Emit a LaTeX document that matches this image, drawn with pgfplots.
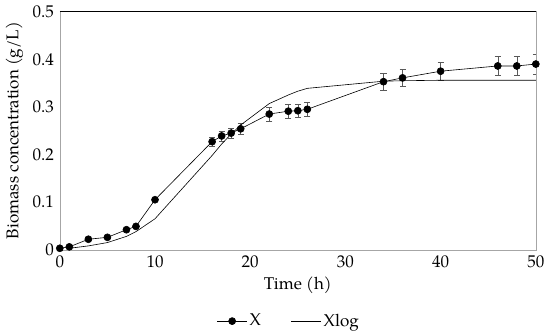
\documentclass[border=0pt]{standalone}
\usepackage{fontspec}
\setmainfont{TeX Gyre Pagella}
\usepackage{pgfplots}
\pgfplotsset{compat=1.18}
\pgfplotsset{
  legX/.style={legend image code/.code={\draw[##1, mark repeat=2, mark phase=2] plot coordinates {(0bp,0bp) (15bp,0bp) (30bp,0bp)};}},
  legL/.style={legend image code/.code={\draw[##1] (0bp,0bp) -- (30bp,0bp);}},
}
\begin{document}
\fontsize{17}{20}\selectfont
\begin{tikzpicture}
\begin{axis}[
  scale only axis, width=474bp, height=237bp,
  xmin=0, xmax=50, ymin=0, ymax=0.5,
  xtick={0,10,...,50}, ytick={0,0.1,...,0.5},
  yticklabel style={/pgf/number format/fixed,/pgf/number format/precision=1},
  /pgf/number format/assume math mode=true,
  major tick length=0pt,
  axis line style={draw=gray!70},
  xlabel={Time (h)}, ylabel={Biomass concentration (g/L)},
  xlabel style={yshift=2pt},
  ylabel style={yshift=-2pt},
  tick label style={font=\fontsize{17}{20}\selectfont},
  label style={font=\fontsize{17}{20}\selectfont},
  legend style={at={(0.481,-0.30)}, anchor=center, draw=none, legend columns=2,
    font=\fontsize{17}{20}\selectfont, /tikz/every even column/.append style={column sep=28bp}},
  legend cell align=left,
]
\addplot[black, semithick, mark=*, mark size=3.5bp, legX,
  error bars/.cd, y dir=both, y explicit,
  error bar style={gray!70!black, thin}, error mark options={rotate=90, mark size=3bp, gray!70!black}]
  table[x=t, y=X, y error=e] {
t X e
0 0.003 0.001
1 0.006 0.001
3 0.022 0.002
5 0.026 0.002
7 0.042 0.002
8 0.049 0.002
10 0.105 0.003
16 0.227 0.010
17 0.239 0.010
18 0.245 0.011
19 0.254 0.012
22 0.285 0.015
24 0.291 0.014
25 0.292 0.013
26 0.295 0.014
34 0.353 0.017
36 0.361 0.018
40 0.375 0.018
46 0.386 0.020
48 0.386 0.020
50 0.390 0.021
};
\addlegendentry{X}
\addplot[black, semithick, no marks, legL] table[x=t, y=X] {
t X
1 0.003
3 0.008
5 0.015
7 0.028
8 0.038
10 0.065
16 0.198
17 0.222
18 0.243
19 0.262
22 0.307
24 0.325
25 0.333
26 0.339
34 0.354
36 0.355
40 0.356
46 0.356
48 0.356
50 0.356
};
\addlegendentry{Xlog}
\draw[black] (rel axis cs:0,1) -- (rel axis cs:1,1) -- (rel axis cs:1,0);
\end{axis}
\end{tikzpicture}
\end{document}
